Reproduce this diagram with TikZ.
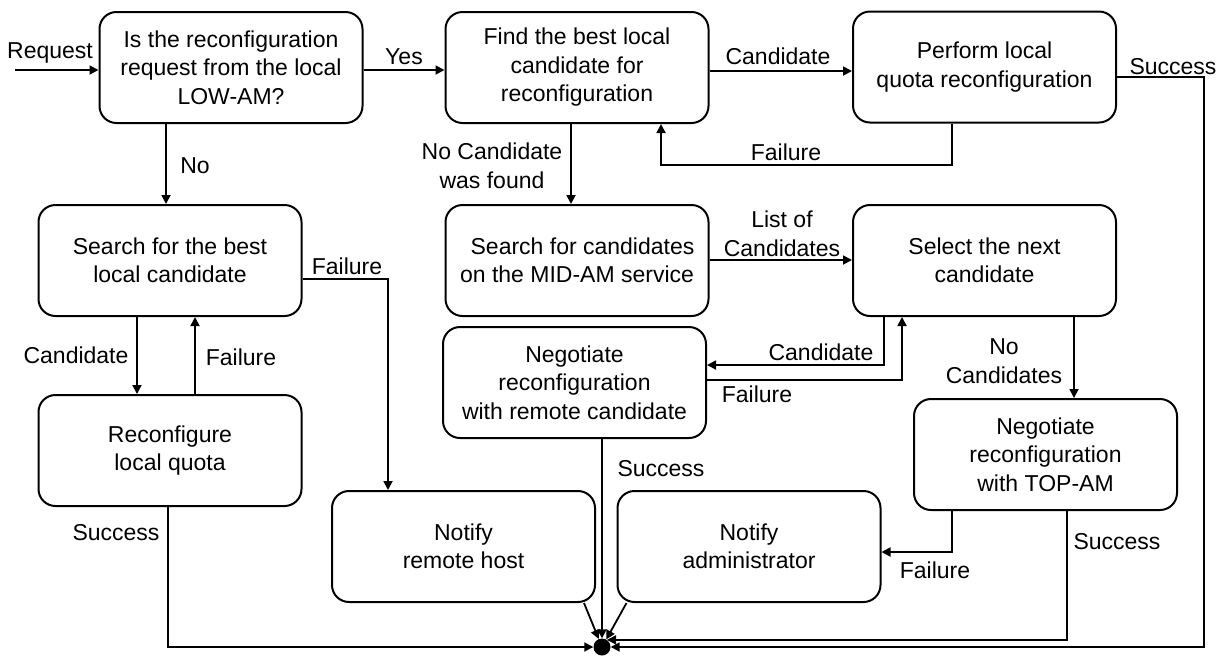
\documentclass[tikz,border=0pt]{standalone}
\usepackage{fontspec}
\setmainfont{Liberation Sans}
\usetikzlibrary{arrows.meta}
\tikzset{
  box/.style={draw, line width=2pt, rounded corners=17pt, minimum width=263pt, minimum height=111pt, align=center, inner sep=0pt, font=\fontsize{23}{28.5}\selectfont},
  lbl/.style={inner sep=0pt, align=center, font=\fontsize{23}{28.5}\selectfont},
  arr/.style={line width=1.8pt, -{Triangle[length=9pt,width=9pt]}},
  enddot/.style={circle, fill=black, minimum size=17pt, inner sep=0pt}
}
\begin{document}
\begin{tikzpicture}[x=1pt,y=-1pt]
\useasboundingbox (0,0) rectangle (1222,657);
% boxes
\node[box] (q) at (231,67.5) {Is the reconfiguration\\request from the local\\LOW-AM?};
\node[box] (find) at (577,67.5) {Find the best local\\candidate for\\reconfiguration};
\node[box] (perf) at (984.5,67) {Perform local\\quota reconfiguration};
\node[box] (slocal) at (170,260.5) {Search for the best\\local candidate};
\node[box] (reconf) at (170,450.5) {Reconfigure\\local quota};
\node[box] (smid) at (577,260.5) {\hspace*{11pt}Search for candidates\\on the MID-AM service};
\node[box] (next) at (984.5,260.5) {Select the next\\candidate};
\node[box] (negrem) at (574.5,382.5) {Negotiate\\reconfiguration\\with remote candidate};
\node[box] (negtop) at (1045.5,454.5) {Negotiate\\reconfiguration\\with TOP-AM};
\node[box] (nrem) at (463.5,546.5) {Notify\\remote host};
\node[box] (nadm) at (749,546.5) {Notify\\administrator};
\node[enddot] (end) at (602,647) {};
\coordinate (rq) at (15,70);
% connectors
\draw[arr] (rq) -- (q.west |- rq);
\node[lbl] (lreq) at (50,53) {Request};
\draw[arr] (q.east |- 0,70) -- (find.west |- 0,70);
\node[lbl] (lyes) at (404,57) {Yes};
\draw[arr] (q.south -| 166,0) -- (slocal.north -| 166,0);
\node[lbl] (lno) at (195,166) {No};
\draw[arr] (find.east |- 0,71) -- (perf.west |- 0,71);
\node[lbl] (lcand1) at (778,56) {Candidate};
\draw[arr] (perf.south -| 952,0) |- (661,165) -- (find.south -| 661,0);
\node[lbl] (lfail1) at (786,152) {Failure};
\draw[arr] (perf.east |- 0,77) -- (1204,77) |- (end.east);
\node[lbl] (lsucc1) at (1173,67) {Success};
\draw[arr] (find.south -| 571,0) -- (smid.north -| 571,0);
\node[lbl] (lnocand) at (492,166) {No Candidate\\was found};
\draw[arr] (slocal.east |- 0,279) -| (nrem.north -| 388,0);
\node[lbl] (lfail2) at (347,266) {Failure};
\draw[arr] (slocal.south -| 137,0) -- (reconf.north -| 137,0);
\node[lbl] (lcand2) at (76,355) {Candidate};
\draw[arr] (reconf.north -| 195,0) -- (slocal.south -| 195,0);
\node[lbl] (lfail3) at (241,357) {Failure};
\draw[arr] (reconf.south -| 168,0) |- (end.west);
\node[lbl] (lsucc2) at (116,533) {Success};
\draw[arr] (smid.east |- 0,260) -- (next.west |- 0,260);
\node[lbl] (llist) at (782,234) {List of\\Candidates};
\draw[arr] (next.south -| 884,0) |- (negrem.east |- 0,365);
\node[lbl] (lcand3) at (821,352) {Candidate};
\draw[arr] (negrem.east |- 0,380) -| (next.south -| 902,0);
\node[lbl] (lfail4) at (757,394) {Failure};
\draw[arr] (next.south -| 1074,0) -- (negtop.north -| 1074,0);
\node[lbl] (lnocands) at (1004,361) {No\\Candidates};
\draw[arr] (negtop.south -| 952,0) |- (nadm.east |- 0,552);
\node[lbl] (lfail5) at (935,570) {Failure};
\draw[arr] (negtop.south -| 1067,0) |- (end.55);
\node[lbl] (lsucc3) at (1117,542) {Success};
\draw[arr] (negrem.south -| end.north) -- (end.north);
\node[lbl] (lsucc4) at (661,469) {Success};
\draw[arr] ([xshift=-12pt]nrem.south east) -- (end);
\draw[arr] ([xshift=10pt]nadm.south west) -- (end);
\end{tikzpicture}
\end{document}
